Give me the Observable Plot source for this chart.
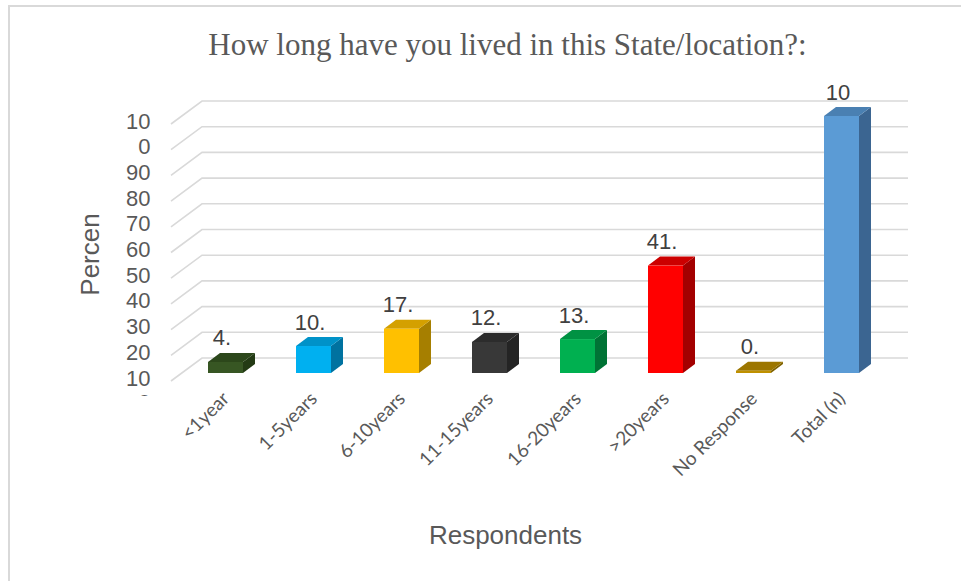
<!DOCTYPE html>
<html>
<head>
<meta charset="utf-8">
<script src="https://cdn.jsdelivr.net/npm/d3@7"></script>
<script src="https://cdn.jsdelivr.net/npm/@observablehq/plot@0.6"></script>
<style>
  html, body { margin: 0; padding: 0; background: #fff; }
  #wrap { position: relative; width: 961px; height: 581px; overflow: hidden; }
  #border { position: absolute; left: 8px; top: 5px; width: 1000px; height: 1000px;
            border-left: 2px solid #d9d9d9; border-top: 2px solid #d9d9d9; box-sizing: border-box; }
  #chart { position: absolute; left: 0; top: 0; }
</style>
</head>
<body>
<div id="wrap"><div id="border"></div><div id="chart"></div></div>
<script>
// ---- data ----
const categories = ["<1year", "1-5years", "6-10years", "11-15years", "16-20years", ">20years", "No Response", "Total (n)"];
const values = [4.3, 10.5, 17.2, 12.1, 13.2, 41.8, 0.9, 100];
const dataLabels = ["4.", "10.", "17.", "12.", "13.", "41.", "0.", "10"];
const yTickValues = [0, 10, 20, 30, 40, 50, 60, 70, 80, 90, 100];
const yTickLabels = ["10", "20", "30", "40", "50", "60", "70", "80", "90", "0", "10"];
const yClippedLabel = "0";
const titleText = "How long have you lived in this State/location?:";
const yTitle = "Percen";
const xTitle = "Respondents";

// ---- styles ----
const frontColors = ["#375623", "#00b0f0", "#ffc000", "#383838", "#00b050", "#ff0000", "#bf9000", "#5b9bd5"];
const topColors   = ["#2c471b", "#0092c8", "#d4a000", "#2c2c2c", "#009243", "#cc0000", "#9c7600", "#4a80b2"];
const sideColors  = ["#233a14", "#0072a0", "#a67f00", "#242424", "#007335", "#a30000", "#7e6200", "#3b6591"];

const rows = categories.map((c, i) => ({cat: c, value: values[i], label: dataLabels[i], i}));
const ticks = yTickValues.map((v, i) => ({v, label: yTickLabels[i]}));

const W = 961, H = 581;
const depth = {dx: 12, dy: -9};
const floor = {dx: -31, dy: 23, back: -15};
const gridLeft = 202, gridRight = 908;
const sans = "Liberation Sans, Arial, sans-serif";

function gridAndFaces(index, scales) {
  const {x, y} = scales;
  const g = d3.create("svg:g");
  for (const t of ticks) {
    const yb = y(t.v) + floor.back;
    g.append("path")
      .attr("d", `M${gridLeft + floor.dx},${yb + floor.dy}L${gridLeft},${yb}L${gridRight},${yb}`)
      .attr("fill", "none").attr("stroke", "#d9d9d9").attr("stroke-width", 1.6);
  }
  const bw = x.bandwidth ? x.bandwidth() : 35;
  for (const r of rows) {
    const x0 = x(r.cat), x1 = x0 + bw;
    const y0 = y(0), yv = y(r.value);
    g.append("path")
      .attr("d", `M${x1},${y0}L${x1 + depth.dx},${y0 + depth.dy}L${x1 + depth.dx},${yv + depth.dy}L${x1},${yv}Z`)
      .attr("fill", sideColors[r.i]);
    g.append("path")
      .attr("d", `M${x0},${yv}L${x0 + depth.dx},${yv + depth.dy}L${x1 + depth.dx},${yv + depth.dy}L${x1},${yv}Z`)
      .attr("fill", topColors[r.i]);
  }
  return g.node();
}

const plot = Plot.plot({
  width: W, height: H,
  marginLeft: 0, marginRight: 0, marginTop: 0, marginBottom: 185,
  x: {type: "band", domain: categories, range: [181, 886], paddingInner: 0.6, paddingOuter: 0.3, axis: null},
  y: {domain: [0, 100], range: [373, 116], axis: null},
  style: {background: "transparent", overflow: "visible"},
  marks: [
    gridAndFaces,
    Plot.barY(rows, {x: "cat", y: "value", fill: (d) => frontColors[d.i]}),
    Plot.text(rows, {x: "cat", y: "value", text: "label", dx: -4, dy: -24,
      fontSize: 22, fill: "#404040", fontFamily: sans}),
    Plot.text(ticks, {y: "v", text: "label", frameAnchor: "left", dx: 150, dy: 5, textAnchor: "end",
      fontSize: 22, fill: "#595959", fontFamily: sans}),
    Plot.text([yClippedLabel], {y: () => 0, text: (d) => d, frameAnchor: "left", dx: 150, dy: 29, textAnchor: "end",
      fontSize: 22, fill: "#595959", fontFamily: sans, clip: true}),
    Plot.text(categories, {x: (d) => d, y: () => 0, text: (d) => d, dx: 0, dy: 22, rotate: -45, textAnchor: "end",
      fontSize: 19, fill: "#595959", fontFamily: "Lato, Carlito, sans-serif"}),
    Plot.text([yTitle], {text: (d) => d, frameAnchor: "top-left", dx: 90, dy: 254, rotate: -90,
      textAnchor: "middle", lineAnchor: "middle", fontSize: 26, fill: "#595959", fontFamily: sans}),
    Plot.text([xTitle], {text: (d) => d, frameAnchor: "top-left", dx: 505, dy: 535,
      textAnchor: "middle", lineAnchor: "middle", fontSize: 26, fill: "#595959", fontFamily: sans}),
    Plot.text([titleText], {text: (d) => d, frameAnchor: "top-left", dx: 507, dy: 45,
      textAnchor: "middle", lineAnchor: "middle", fontSize: 31, fill: "#595959",
      fontFamily: "Liberation Serif, Times New Roman, serif"})
  ]
});
document.getElementById("chart").appendChild(plot);
</script>
</body>
</html>
